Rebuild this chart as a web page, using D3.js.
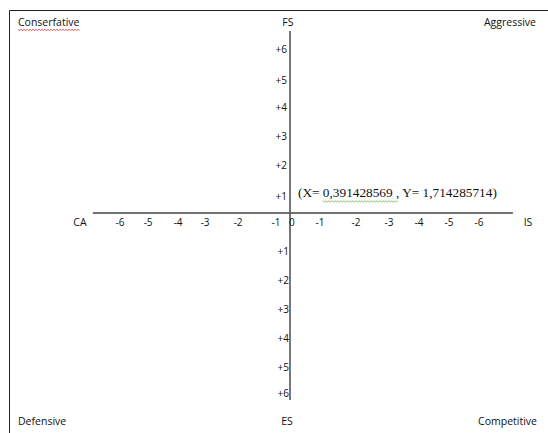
<!DOCTYPE html>
<html>
<head>
<meta charset="utf-8">
<script src="https://cdn.jsdelivr.net/npm/d3@7"></script>
<style>
    body { margin: 0; background: #fff; }
    text { font-family: "Open Sans", "Noto Sans", sans-serif; fill: #111; }
</style>
</head>
<body>
<div id="root"></div>
<script>
// tick labels and where they sit, in axis units
var xLeftLabels = ["-6", "-5", "-4", "-3", "-2", "-1"];
var xLeftPos = [-5.67, -4.73, -3.73, -2.83, -1.73, -0.47];
var xRightLabels = ["-1", "-2", "-3", "-4", "-5", "-6"];
var xRightPos = [1.0, 2.2, 3.3, 4.3, 5.3, 6.3];

var yUpLabels = ["+1", "+2", "+3", "+4", "+5", "+6"];
var yUpPos = [0.6, 1.65, 2.65, 3.65, 4.6, 5.65];
var yDownLabels = ["+1", "+2", "+3", "+4", "+5", "+6"];
var yDownPos = [-1.3, -2.3, -3.3, -4.3, -5.3, -6.2];

var corners = ["Conserfative", "Aggressive", "Defensive", "Competitive"];
var axisNames = ["FS", "ES", "CA", "IS"];

var pointX = "0,391428569";
var pointY = "1,714285714";

var width = 548,
    height = 433;

var svg = d3
    .select("#root")
    .append("svg")
    .attr("width", width)
    .attr("height", height);

// page frame (top and left edges only show)
svg.append("path")
    .attr("d", "M9.5,433 V10.5 H548")
    .attr("fill", "none")
    .attr("stroke", "#222")
    .attr("stroke-width", 1);

// scales: the origin sits at (290, 213)
var x = d3.scaleLinear().domain([-7, 7]).range([80, 500]);
var y = d3.scaleLinear().domain([-7, 7]).range([416, 10]);

// horizontal axis
svg.append("line")
    .attr("x1", x(-6.57))
    .attr("x2", x(7.43))
    .attr("y1", y(0))
    .attr("y2", y(0))
    .attr("stroke", "#444")
    .attr("stroke-width", 1.3);

// vertical axis
svg.append("line")
    .attr("x1", x(0))
    .attr("x2", x(0))
    .attr("y1", y(6.28))
    .attr("y2", y(-6.45))
    .attr("stroke", "#555")
    .attr("stroke-width", 1.6);

var tickSize = "10px";

svg.append("g")
    .selectAll("text")
    .data(xLeftLabels)
    .enter()
    .append("text")
    .attr("x", (d, i) => x(xLeftPos[i]))
    .attr("y", y(0) + 13)
    .attr("text-anchor", "middle")
    .style("font-size", tickSize)
    .text((d) => d);

svg.append("g")
    .selectAll("text")
    .data(xRightLabels)
    .enter()
    .append("text")
    .attr("x", (d, i) => x(xRightPos[i]))
    .attr("y", y(0) + 13)
    .attr("text-anchor", "middle")
    .style("font-size", tickSize)
    .text((d) => d);

// zero next to the axis
svg.append("text")
    .attr("x", x(0) - 1)
    .attr("y", y(0) + 13)
    .style("font-size", tickSize)
    .text("0");

svg.append("g")
    .selectAll("text")
    .data(yUpLabels)
    .enter()
    .append("text")
    .attr("x", x(0) - 3)
    .attr("y", (d, i) => y(yUpPos[i]) + 4)
    .attr("text-anchor", "end")
    .style("font-size", tickSize)
    .text((d) => d);

svg.append("g")
    .selectAll("text")
    .data(yDownLabels)
    .enter()
    .append("text")
    .attr("x", x(0) - 1)
    .attr("y", (d, i) => y(yDownPos[i]) + 4)
    .attr("text-anchor", "end")
    .style("font-size", tickSize)
    .text((d) => d);

// axis names
var nameSize = "10.5px";
svg.append("text").attr("x", x(-0.07)).attr("y", 26).attr("text-anchor", "middle")
    .style("font-size", nameSize).text(axisNames[0]);
svg.append("text").attr("x", x(-0.1)).attr("y", 425).attr("text-anchor", "middle")
    .style("font-size", nameSize).text(axisNames[1]);
svg.append("text").attr("x", 80).attr("y", y(0) + 13).attr("text-anchor", "middle")
    .style("font-size", nameSize).text(axisNames[2]);
svg.append("text").attr("x", 528).attr("y", y(0) + 13).attr("text-anchor", "middle")
    .style("font-size", nameSize).text(axisNames[3]);

// corner labels
svg.append("text").attr("x", 18).attr("y", 26).style("font-size", nameSize).text(corners[0]);
svg.append("text").attr("x", 536).attr("y", 26).attr("text-anchor", "end")
    .style("font-size", nameSize).text(corners[1]);
svg.append("text").attr("x", 18).attr("y", 425).style("font-size", nameSize).text(corners[2]);
svg.append("text").attr("x", 537).attr("y", 425).attr("text-anchor", "end")
    .style("font-size", nameSize).text(corners[3]);

// squiggly spell-check underline
function squiggle(x0, x1, yy, color) {
    var pts = [];
    for (var xx = x0, k = 0; xx <= x1; xx += 1.5, k++) {
        pts.push([xx, yy + (k % 2 ? 1 : -0.2)]);
    }
    svg.append("path")
        .attr("d", d3.line()(pts))
        .attr("fill", "none")
        .attr("stroke", color)
        .attr("stroke-width", 0.8);
}

var cons = svg.selectAll("text").filter(function () { return this.textContent === corners[0]; });
var cb = cons.node().getBBox();
squiggle(cb.x, cb.x + cb.width, 29.5, "#e03030");

// the result point, written as text
var note = svg.append("text")
    .attr("x", x(0) + 8)
    .attr("y", y(0) - 16)
    .style("font-family", "'Liberation Serif', 'Times New Roman', serif")
    .style("font-size", "13.3px");
note.append("tspan").text("(X= ");
var tx = note.append("tspan").text(pointX + " ,");
note.append("tspan").text(" Y= " + pointY + ")");

var tb = tx.node().getBBox();
squiggle(tb.x, tb.x + tb.width, y(0) - 12, "#6ab04c");
</script>
</body>
</html>
